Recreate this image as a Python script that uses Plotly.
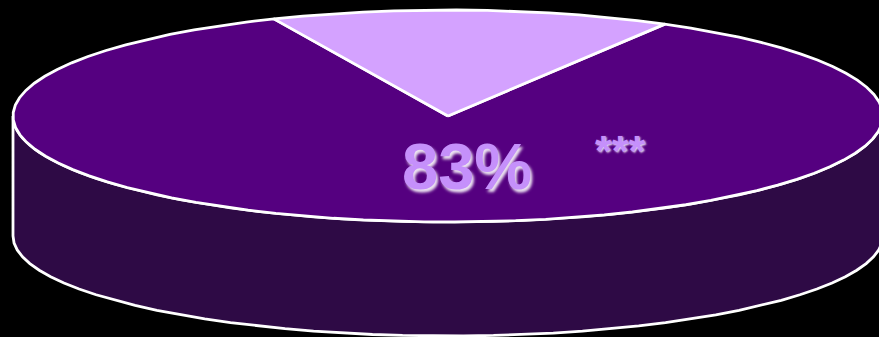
import numpy as np
import plotly.graph_objects as go

# Values
slice_names = ["Major share", "Minor share"]
slice_edges_deg = [60.1, 113.6]   # edges of the light slice, on the pie top
label_text = "83%"
marker_text = "***"

# Pie geometry, in pixels of the 879x337 canvas
W, H = 879, 337
CX, CY, RX, RY, DEPTH, BASE_RY = 448, 116, 435, 106, 120, 100
STEP = 4
TOP_DARK, TOP_LIGHT, SIDE, OUTLINE = "#550080", "#D4A2FF", "#2E0A45", "#FFFFFF"


def arc(a0, a1, dy=0, ry=RY):
    n = int(abs(a1 - a0) / STEP) + 1
    t = np.radians(np.linspace(a0, a1, n))
    return CX + RX * np.cos(t), CY + dy - ry * np.sin(t)


a, b = slice_edges_deg
line = dict(color=OUTLINE, width=2.8)
fig = go.Figure()

# Rim: lower half of the top ellipse, then lower half of the base ellipse
x1, y1 = arc(180, 360)
x2, y2 = arc(360, 180, DEPTH, BASE_RY)
fig.add_trace(go.Scatter(x=np.r_[x1, x2, x1[0]], y=np.r_[y1, y2, y1[0]], mode="lines",
                         fill="toself", fillcolor=SIDE, line=line, name="Rim"))

# Large slice
x, y = arc(b, a + 360)
fig.add_trace(go.Scatter(x=np.r_[CX, x, CX], y=np.r_[CY, y, CY], mode="lines",
                         fill="toself", fillcolor=TOP_DARK, line=line, name=slice_names[0]))

# Small slice
x, y = arc(a, b)
fig.add_trace(go.Scatter(x=np.r_[CX, x, CX], y=np.r_[CY, y, CY], mode="lines",
                         fill="toself", fillcolor=TOP_LIGHT, line=line, name=slice_names[1]))

shadow = "2px 3px 3px rgba(255,255,255,0.9)"
fig.add_annotation(x=467, y=166, text=f"<b>{label_text}</b>", showarrow=False,
                   font=dict(family="Liberation Sans", size=65, color="#C590FB", shadow=shadow))
fig.add_annotation(x=620, y=150, text=f"<b>{marker_text}</b>", showarrow=False,
                   font=dict(family="Liberation Sans", size=43, color="#C590FB",
                             shadow="1px 1px 2px rgba(255,255,255,0.9)"))

fig.update_layout(
    width=W, height=H, margin=dict(l=0, r=0, t=0, b=0), autosize=False,
    paper_bgcolor="#000000", plot_bgcolor="#000000", showlegend=False,
    xaxis=dict(range=[0, W], visible=False, fixedrange=True),
    yaxis=dict(range=[H, 0], visible=False, fixedrange=True),
)
fig.write_html("out.html", config={"displayModeBar": False},
               post_script="document.body.style.margin='0';document.body.style.background='#000';document.body.style.overflow='hidden';")
